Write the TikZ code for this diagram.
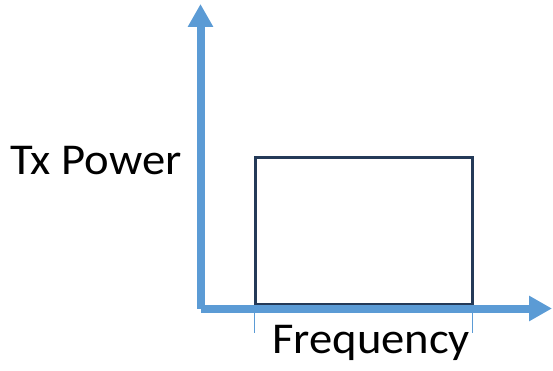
\documentclass[tikz,border=0pt]{standalone}
\usepackage{fontspec}
\setmainfont{Carlito}
\usetikzlibrary{arrows.meta}
\definecolor{axisblue}{RGB}{91,155,213}
\definecolor{boxnavy}{RGB}{36,58,88}

\begin{document}
\begin{tikzpicture}[x=1pt,y=-1pt,>={Triangle[length=23pt,width=24pt]}]
          \tikzstyle{axis}=[draw=axisblue,line width=8pt,->]
          \tikzstyle{band}=[draw=boxnavy,line width=3pt]
          \tikzstyle{marker}=[draw=axisblue,line width=1pt]
          \tikzstyle{label}=[inner sep=0pt,anchor=base west,xscale=1.06,font=\fontsize{44}{52}\selectfont]
          \useasboundingbox (0,0) rectangle (553,371);

          \coordinate (O)  at (200.5,308.5);
          \coordinate (Y)  at (200.5,4);
          \coordinate (X)  at (552,308.5);
          \coordinate (BL) at (255,304.5);
          \coordinate (TR) at (472,158);
          \coordinate (L1) at (254.5,312);
          \coordinate (L2) at (254.5,333);
          \coordinate (R1) at (472.5,312);
          \coordinate (R2) at (472.5,333);

          \draw[band] (BL) rectangle (TR);
          \draw[axis] (O) -- (Y);
          \draw[axis] (O) -- (X);
          \draw[marker] (L1) -- (L2);
          \draw[marker] (R1) -- (R2);

          \node[label] (power) at (10,175)  {Tx Power};
          \node[label] (freq)  at (272,353) {Frequency};
        \end{tikzpicture}
\end{document}
